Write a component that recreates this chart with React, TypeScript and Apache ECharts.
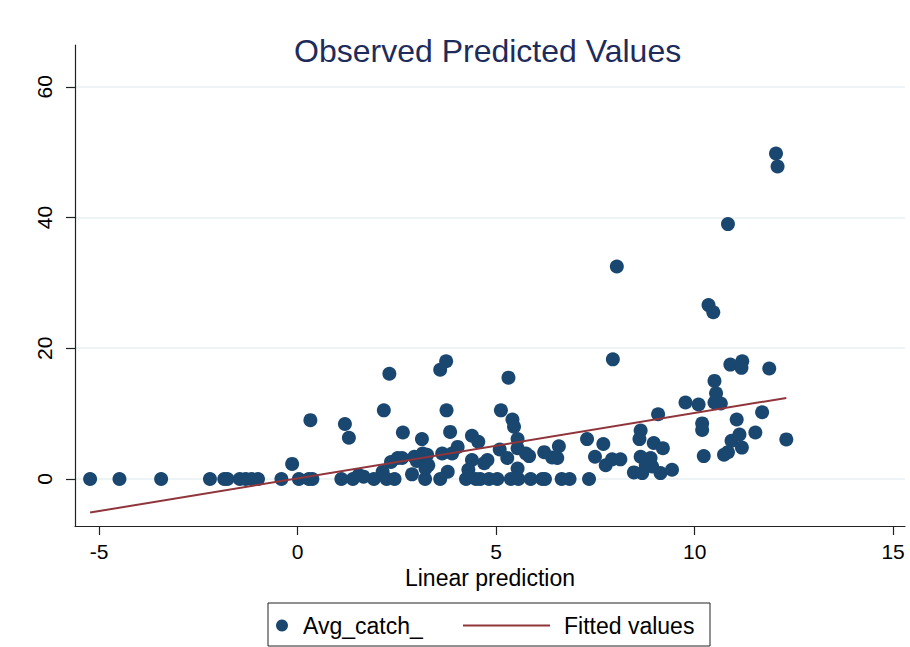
import React, { useEffect, useRef } from "react";
import * as echarts from "echarts";

const titleText = "Observed Predicted Values";
const xName = "Linear prediction";
const scatterName = "Avg_catch_";
const fitName = "Fitted values";

const xTicks = [-5, 0, 5, 10, 15];
const yTicks = [0, 20, 40, 60];

// Observed points: x = linear prediction, y = Avg_catch_
const obsX = [
  -5.23, -4.49, -3.44, -2.21, -1.85, -1.77, -1.46, -1.31, -1.16, -1.0, -0.41, -0.14, 0.03, 0.28, 0.37, 1.1,
  0.32, 1.19, 1.29, 1.39, 1.54, 1.66, 1.92, 2.17, 2.31, 2.14, 2.24, 2.44, 2.35, 2.52, 2.63, 2.65, 2.88, 2.94, 3.0,
  3.13, 3.15, 3.26, 3.21, 3.29, 3.22, 3.59, 3.74, 3.75, 3.59, 3.64, 3.78, 3.84, 3.89, 4.03, 4.24, 4.3, 4.39, 4.39,
  4.55, 4.49, 4.6, 4.7, 4.78, 4.82, 5.03, 5.09, 5.12, 5.28, 5.31,
  5.41, 5.45, 5.54, 5.54, 5.54, 5.37, 5.56, 5.75, 5.83, 5.87, 6.16, 6.23, 6.21, 6.41, 6.54, 6.58, 6.65, 6.85,
  7.29, 7.34, 7.49, 7.7, 7.76, 7.92, 7.94, 8.13, 8.47, 8.64, 8.61, 8.64, 8.68, 8.77, 8.89, 8.97, 8.93, 9.14, 9.2,
  9.08, 9.43, 9.77, 10.1, 10.19, 10.19, 10.23,
  10.5, 10.54, 10.5, 10.66, 10.9, 11.2, 11.18, 11.88, 11.06, 11.7, 11.13, 10.93, 11.53, 11.19, 10.84, 10.74, 12.31,
  12.05, 12.09, 10.84, 8.04, 10.35, 10.47,
];
const obsY = [
  0, 0, 0, 0, 0, 0, 0, 0, 0, 0, 0, 2.3, 0, 0, 0, 0,
  9.0, 8.4, 6.3, 0, 0.6, 0.35, 0, 10.5, 16.1, 1.1, 0, 0, 2.6, 3.2, 3.2, 7.1, 0.7, 3.4, 2.75,
  6.1, 3.9, 3.7, 0, 2.1, 1.6, 16.7, 18.0, 10.5, 0, 3.9, 1.1, 7.2, 3.9, 4.9, 0, 1.4, 2.9, 6.6,
  5.7, 0, 0, 2.4, 2.9, 0, 0, 4.5, 10.5, 3.2, 15.5,
  9.1, 8.0, 6.1, 4.7, 1.6, 0, 0, 3.9, 3.5, 0, 0, 0, 4.1, 3.3, 3.2, 5.0, 0, 0,
  6.1, 0, 3.4, 5.35, 2.1, 3.0, 18.3, 3.0, 1.0, 7.4, 6.1, 3.4, 0.9, 2.1, 3.2, 5.5, 1.9, 0.9, 4.7,
  9.9, 1.4, 11.7, 11.4, 8.5, 7.5, 3.5,
  15.0, 13.1, 11.7, 11.55, 17.5, 18.0, 17.0, 16.9, 9.1, 10.2, 6.8, 5.85, 7.1, 4.8, 4.1, 3.7, 6.05,
  49.8, 47.8, 39.0, 32.5, 26.6, 25.5,
];

// Fitted regression line end points
const fitX = [-5.23, 12.31];
const fitY = [-5.14, 12.4];

const NAVY = "#1a476f";
const MAROON = "#90353b";
const FONT = "Liberation Sans, Arial, sans-serif";

export default function App() {
  const ref = useRef<HTMLDivElement>(null);
  useEffect(() => {
    if (!ref.current) return;
    const chart = echarts.init(ref.current, undefined, { renderer: "svg" });
    const scatterData = obsX.map((x, i) => [x, obsY[i]]);
    const fitData = fitX.map((x, i) => [x, fitY[i]]);
    chart.setOption({
      animation: false,
      backgroundColor: "#ffffff",
      textStyle: { fontFamily: FONT },
      title: {
        text: titleText,
        left: 294,
        top: 35,
        padding: 0,
        textStyle: { fontSize: 32, fontWeight: "normal", color: "#1e2c5c", fontFamily: FONT },
      },
      grid: { left: 75, right: 5, top: 45, bottom: 121, containLabel: false },
      xAxis: {
        type: "value",
        min: -5.61,
        max: 15.3,
        name: xName,
        nameLocation: "middle",
        nameGap: 40,
        nameTextStyle: { fontSize: 23, color: "#000", fontFamily: FONT },
        axisLine: { show: true, onZero: false, lineStyle: { color: "#222", width: 1.2 } },
        axisTick: { show: true, length: 9, customValues: xTicks, lineStyle: { color: "#222", width: 1.2 } },
        axisLabel: { customValues: xTicks, fontSize: 21, color: "#000", margin: 15, fontFamily: FONT },
        splitLine: { show: false },
      },
      yAxis: {
        type: "value",
        min: -7.2,
        max: 66.4,
        axisLine: { show: true, onZero: false, lineStyle: { color: "#222", width: 1.2 } },
        axisTick: { show: true, length: 9, customValues: yTicks, lineStyle: { color: "#222", width: 1.2 } },
        axisLabel: { customValues: yTicks, fontSize: 21, color: "#000", margin: 20, rotate: 90, fontFamily: FONT },
        splitLine: { show: true, lineStyle: { color: "#e8f0f2", width: 1.5 } },
      },
      legend: [
        {
          data: [{ name: scatterName, icon: "circle" }],
          left: 276,
          top: 614,
          padding: 0,
          itemWidth: 12,
          itemHeight: 12,
          textStyle: { fontSize: 23, color: "#000", fontFamily: FONT, padding: [0, 0, 0, 10] },
        },
        {
          data: [{ name: fitName, icon: "rect", itemStyle: { color: MAROON } }],
          left: 463,
          top: 614,
          padding: 0,
          itemWidth: 87,
          itemHeight: 2,
          textStyle: { fontSize: 23, color: "#000", fontFamily: FONT, padding: [0, 0, 0, 9] },
        },
      ],
      graphic: [
        {
          type: "rect",
          shape: { x: 268, y: 603, width: 442, height: 43 },
          style: { fill: "none", stroke: "#222", lineWidth: 1 },
          silent: true,
        },
      ],
      series: [
        {
          name: scatterName,
          type: "scatter",
          data: scatterData,
          symbol: "circle",
          symbolSize: 14,
          itemStyle: { color: NAVY, opacity: 1 },
          z: 2,
        },
        {
          name: fitName,
          type: "line",
          data: fitData,
          symbol: "none",
          lineStyle: { color: MAROON, width: 2 },
          itemStyle: { color: MAROON },
          z: 3,
        },
      ],
    });
    return () => chart.dispose();
  }, []);
  return (
    <div
      ref={ref}
      style={{ position: "fixed", left: 0, top: 0, width: 910, height: 647 }}
    />
  );
}
